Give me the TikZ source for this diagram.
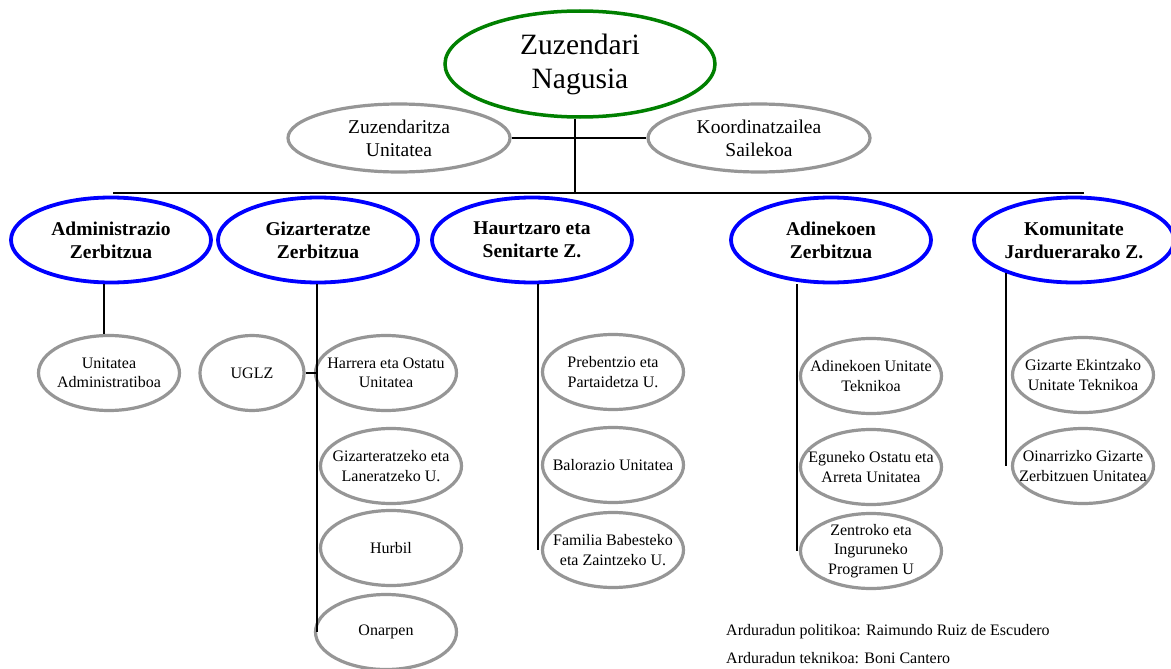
\documentclass[tikz,border=0pt]{standalone}
\usepackage{fontspec}
\setmainfont{Liberation Serif}
\usetikzlibrary{shapes.geometric}
\newcommand\fsz[2]{\fontsize{#1}{#2}\selectfont}
\definecolor{elgray}{RGB}{150,150,150}
\definecolor{elgreen}{RGB}{0,128,0}
\definecolor{elblue}{RGB}{0,0,255}
\tikzset{
 ell/.style={ellipse, align=center, inner xsep=-60pt, inner ysep=-40pt},
 topell/.style={ell, draw=elgreen, line width=3.5pt, minimum width=270pt, minimum height=106pt, font=\fsz{29.5}{34}},
 midell/.style={ell, draw=elgray, line width=3.2pt, minimum width=222pt, minimum height=68pt, font=\fsz{19.5}{23}},
 srvell/.style={ell, draw=elblue, line width=3.8pt, minimum width=200pt, minimum height=85pt, font=\bfseries\fsz{19.5}{23}},
 unitell/.style={ell, draw=elgray, line width=3.2pt, minimum width=141pt, minimum height=75pt, font=\fsz{16}{19.5}},
 conn/.style={draw=black, line width=1.4pt},
 note/.style={anchor=base west, inner sep=0pt, font=\fsz{16}{19}},
}
\begin{document}
\begin{tikzpicture}[x=1pt,y=-1pt]
\useasboundingbox (0,0) rectangle (1171,669);
\fill[white] (0,0) rectangle (1171,669);
% top level
\node[topell] (zn) at (580,64) {Zuzendari\\Nagusia};
\node[midell] (zu) at (399,138) {Zuzendaritza\\Unitatea};
\node[midell] (ko) at (759,138) {Koordinatzailea\\Sailekoa};
% services
\node[srvell] (adm) at (111,240) {Administrazio\\Zerbitzua};
\node[srvell] (giz) at (318,240) {Gizarteratze\\Zerbitzua};
\node[srvell] (hau) at (532,240) {Haurtzaro eta\\Senitarte Z.};
\node[srvell] (adi) at (831,240) {Adinekoen\\Zerbitzua};
\node[srvell] (kom) at (1074,240) {Komunitate\\Jarduerarako Z.};
% units
\node[unitell] (uad) at (109,373) {Unitatea\\Administratiboa};
\node[unitell, minimum width=104pt] (uglz) at (252,373) {UGLZ};
\node[unitell] (har) at (386,373) {Harrera eta Ostatu\\Unitatea};
\node[unitell] (gl) at (391,466) {Gizarteratzeko eta\\Laneratzeko U.};
\node[unitell] (hur) at (391,548) {Hurbil};
\node[unitell] (ona) at (386,632) {Onarpen};
\node[unitell] (pre) at (613,372) {Prebentzio eta\\Partaidetza U.};
\node[unitell] (bal) at (613,465) {Balorazio Unitatea};
\node[unitell] (fam) at (613,550) {Familia Babesteko\\eta Zaintzeko U.};
\node[unitell] (aut) at (871,376) {Adinekoen Unitate\\Teknikoa};
\node[unitell] (egu) at (871,467) {Eguneko Ostatu eta\\Arreta Unitatea};
\node[unitell] (zen) at (871,551) {Zentroko eta\\Inguruneko\\Programen U};
\node[unitell] (gek) at (1083,375) {Gizarte Ekintzako\\Unitate Teknikoa};
\node[unitell] (oin) at (1083,466) {Oinarrizko Gizarte\\Zerbitzuen Unitatea};
% connectors
\coordinate (busL) at (113,193);
\coordinate (busR) at (1084,193);
\coordinate (busM) at (575,193);
\draw[conn] (busL) -- (busR);
\draw[conn] (busM |- zn.south) -- (busM);
\draw[conn] (zu.east) -- (ko.west);
\coordinate (ax) at (104,0);
\draw[conn] (ax |- adm.south) -- (ax |- uad.north);
\coordinate (gx) at (317,0);
\draw[conn] (gx |- giz.south) -- (gx |- ona.west);
\draw[conn] (uglz.east) -- (uglz.east -| gx);
\coordinate (hx) at (538,0);
\draw[conn] (hx |- hau.south) -- (hx |- fam.center);
\coordinate (dx) at (797,0);
\draw[conn] (dx |- adi.south) -- (dx |- zen.center);
\draw[conn] (kom.206) -- (kom.206 |- oin.center);
% notes
\node[note] (n1) at (726,635) {Arduradun politikoa: Raimundo Ruiz de Escudero};
\node[note] (n2) at (726,663) {Arduradun teknikoa: Boni Cantero};
\end{tikzpicture}
\end{document}
